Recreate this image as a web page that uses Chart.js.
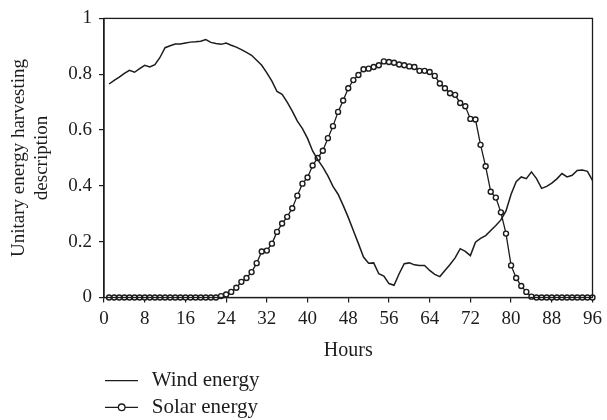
<!DOCTYPE html>
<html>
<head>
<meta charset="utf-8">
<script src="https://cdn.jsdelivr.net/npm/chart.js@4/dist/chart.umd.min.js"></script>
<style>
  html, body { margin: 0; padding: 0; background: #fff; }
  #wrap { width: 607px; height: 420px; }
</style>
</head>
<body>
<div id="wrap"><canvas id="energyChart" width="607" height="420"></canvas></div>
<script>
// hours (quarter-hour steps shown as 1..96)
const hours = [1, 2, 3, 4, 5, 6, 7, 8, 9, 10, 11, 12, 13, 14, 15, 16, 17, 18, 19, 20, 21, 22, 23, 24,
  25, 26, 27, 28, 29, 30, 31, 32, 33, 34, 35, 36, 37, 38, 39, 40, 41, 42, 43, 44, 45, 46, 47, 48,
  49, 50, 51, 52, 53, 54, 55, 56, 57, 58, 59, 60, 61, 62, 63, 64, 65, 66, 67, 68, 69, 70, 71, 72,
  73, 74, 75, 76, 77, 78, 79, 80, 81, 82, 83, 84, 85, 86, 87, 88, 89, 90, 91, 92, 93, 94, 95, 96];

const windEnergy = [0.765, 0.778, 0.79, 0.803, 0.814, 0.807, 0.82, 0.832, 0.826, 0.834, 0.86, 0.895,
  0.902, 0.908, 0.908, 0.912, 0.915, 0.916, 0.918, 0.924, 0.914, 0.91, 0.907, 0.912,
  0.904, 0.897, 0.888, 0.878, 0.868, 0.85, 0.832, 0.805, 0.775, 0.738, 0.728, 0.7,
  0.668, 0.632, 0.605, 0.57, 0.525, 0.494, 0.467, 0.436, 0.398, 0.37, 0.33, 0.287,
  0.24, 0.193, 0.145, 0.123, 0.124, 0.085, 0.077, 0.05, 0.044, 0.085, 0.121, 0.124,
  0.117, 0.115, 0.115, 0.097, 0.083, 0.075, 0.097, 0.118, 0.142, 0.175, 0.165, 0.15,
  0.198, 0.212, 0.222, 0.24, 0.258, 0.278, 0.31, 0.37, 0.415, 0.432, 0.426, 0.45,
  0.426, 0.391, 0.398, 0.41, 0.425, 0.444, 0.432, 0.438, 0.455, 0.457, 0.452, 0.42];

const solarEnergy = [0, 0, 0, 0, 0, 0, 0, 0, 0, 0, 0, 0,
  0, 0, 0, 0, 0, 0, 0, 0, 0, 0, 0.005, 0.011,
  0.02, 0.035, 0.056, 0.07, 0.091, 0.123, 0.165, 0.168, 0.193, 0.235, 0.265, 0.289,
  0.32, 0.365, 0.408, 0.43, 0.473, 0.5, 0.526, 0.571, 0.614, 0.665, 0.706, 0.75,
  0.779, 0.797, 0.818, 0.82, 0.826, 0.832, 0.846, 0.844, 0.841, 0.835, 0.832, 0.828,
  0.826, 0.812, 0.812, 0.808, 0.794, 0.767, 0.75, 0.732, 0.726, 0.697, 0.685, 0.64,
  0.638, 0.547, 0.47, 0.379, 0.358, 0.305, 0.229, 0.115, 0.07, 0.041, 0.02, 0.003,
  0, 0, 0, 0, 0, 0, 0, 0, 0, 0, 0, 0];

const xTicks = [0, 8, 16, 24, 32, 40, 48, 56, 64, 72, 80, 88, 96];
const yTicks = [0, 0.2, 0.4, 0.6, 0.8, 1];
const yTickLabels = ['0', '0.2', '0.4', '0.6', '0.8', '1'];

const ink = '#1c1c1c';
const serif = '"Liberation Serif", "Times New Roman", serif';

// frame round the plot area
const frame = {
  id: 'frame',
  afterDatasetsDraw(chart) {
    const { ctx, chartArea: a } = chart;
    ctx.save();
    ctx.strokeStyle = ink;
    ctx.lineWidth = 1.3;
    ctx.strokeRect(a.left, a.top, a.right - a.left, a.bottom - a.top);
    ctx.restore();
  }
};

// stacked legend under the axis title
const stackedLegend = {
  id: 'stackedLegend',
  afterDraw(chart) {
    const ctx = chart.ctx;
    ctx.save();
    chart.data.datasets.forEach((ds, i) => {
      const y = 380.7 + i * 26.6;
      ctx.strokeStyle = ink;
      ctx.lineWidth = 1.2;
      ctx.beginPath();
      ctx.moveTo(105, y);
      ctx.lineTo(138, y);
      ctx.stroke();
      if (ds.pointRadius > 0) {
        ctx.beginPath();
        ctx.arc(121.7, y, 3.3, 0, Math.PI * 2);
        ctx.fillStyle = '#fff';
        ctx.fill();
        ctx.lineWidth = 1.3;
        ctx.stroke();
      }
      ctx.fillStyle = ink;
      ctx.font = '21px ' + serif;
      ctx.textBaseline = 'middle';
      ctx.fillText(ds.label, 151.7, y);
    });
    ctx.restore();
  }
};

const ctx = document.getElementById('energyChart').getContext('2d');
new Chart(ctx, {
  type: 'line',
  data: {
    datasets: [{
      label: 'Wind energy',
      data: hours.map((h, i) => ({ x: h, y: windEnergy[i] })),
      borderColor: ink,
      borderWidth: 1.5,
      pointRadius: 0,
      tension: 0,
      clip: false
    }, {
      label: 'Solar energy',
      data: hours.map((h, i) => ({ x: h, y: solarEnergy[i] })),
      borderColor: ink,
      borderWidth: 1.3,
      pointRadius: 2.5,
      pointBorderWidth: 1.4,
      pointBackgroundColor: '#fff',
      pointBorderColor: ink,
      tension: 0,
      clip: false
    }]
  },
  options: {
    responsive: false,
    animation: false,
    events: [],
    layout: { padding: { left: 8, right: 11, top: 14, bottom: 57.5 } },
    plugins: {
      legend: { display: false },
      tooltip: { enabled: false }
    },
    scales: {
      x: {
        type: 'linear',
        min: 0,
        max: 96,
        afterBuildTicks: s => { s.ticks = xTicks.map(v => ({ value: v })); },
        afterFit: s => { s.height = 65; },
        grid: { display: true, drawOnChartArea: false, drawTicks: true, tickLength: 5, color: ink, lineWidth: 1.2 },
        border: { display: true, color: ink, width: 1.3 },
        ticks: { color: ink, padding: 5, maxRotation: 0, font: { family: serif, size: 19 } },
        title: {
          display: true,
          text: 'Hours',
          color: ink,
          padding: { top: 0, bottom: 0 },
          font: { family: serif, size: 20 }
        }
      },
      y: {
        min: 0,
        max: 1,
        afterBuildTicks: s => { s.ticks = yTicks.map(v => ({ value: v })); },
        afterFit: s => { s.width = 96; },
        grid: { display: true, drawOnChartArea: false, drawTicks: true, tickLength: 5, color: ink, lineWidth: 1.2 },
        border: { display: true, color: ink, width: 1.3 },
        ticks: {
          color: ink,
          padding: 7,
          font: { family: serif, size: 19 },
          callback: (v, i) => yTickLabels[i]
        },
        title: {
          display: true,
          text: ['Unitary energy harvesting', 'description'],
          color: ink,
          padding: { top: 0, bottom: 0 },
          font: { family: serif, size: 19 }
        }
      }
    }
  },
  plugins: [frame, stackedLegend]
});
</script>
</body>
</html>
